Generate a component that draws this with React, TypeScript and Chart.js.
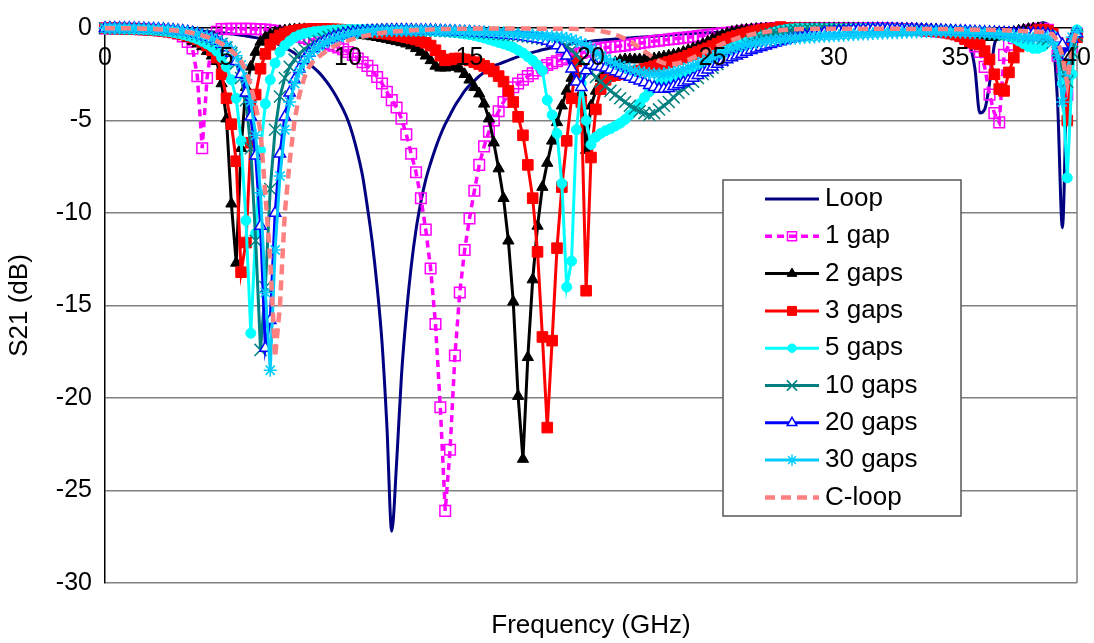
import React, { useEffect, useRef } from "react";
import { Chart, registerables } from "chart.js";
import { drawPoint } from "chart.js/helpers";

Chart.register(...registerables);
Chart.defaults.font.family = "'Liberation Sans', Arial, sans-serif";

const FREQ = [
  0, 0.2, 0.4, 0.6, 0.8, 1, 1.2, 1.4, 1.6, 1.8,
  2, 2.2, 2.4, 2.6, 2.8, 3, 3.2, 3.4, 3.6, 3.8,
  4, 4.2, 4.4, 4.6, 4.8, 5, 5.2, 5.4, 5.6, 5.8,
  6, 6.2, 6.4, 6.6, 6.8, 7, 7.2, 7.4, 7.6, 7.8,
  8, 8.2, 8.4, 8.6, 8.8, 9, 9.2, 9.4, 9.6, 9.8,
  10, 10.2, 10.4, 10.6, 10.8, 11, 11.2, 11.4, 11.6, 11.8,
  12, 12.2, 12.4, 12.6, 12.8, 13, 13.2, 13.4, 13.6, 13.8,
  14, 14.2, 14.4, 14.6, 14.8, 15, 15.2, 15.4, 15.6, 15.8,
  16, 16.2, 16.4, 16.6, 16.8, 17, 17.2, 17.4, 17.6, 17.8,
  18, 18.2, 18.4, 18.6, 18.8, 19, 19.2, 19.4, 19.6, 19.8,
  20, 20.2, 20.4, 20.6, 20.8, 21, 21.2, 21.4, 21.6, 21.8,
  22, 22.2, 22.4, 22.6, 22.8, 23, 23.2, 23.4, 23.6, 23.8,
  24, 24.2, 24.4, 24.6, 24.8, 25, 25.2, 25.4, 25.6, 25.8,
  26, 26.2, 26.4, 26.6, 26.8, 27, 27.2, 27.4, 27.6, 27.8,
  28, 28.2, 28.4, 28.6, 28.8, 29, 29.2, 29.4, 29.6, 29.8,
  30, 30.2, 30.4, 30.6, 30.8, 31, 31.2, 31.4, 31.6, 31.8,
  32, 32.2, 32.4, 32.6, 32.8, 33, 33.2, 33.4, 33.6, 33.8,
  34, 34.2, 34.4, 34.6, 34.8, 35, 35.2, 35.4, 35.6, 35.8,
  36, 36.2, 36.4, 36.6, 36.8, 37, 37.2, 37.4, 37.6, 37.8,
  38, 38.2, 38.4, 38.6, 38.8, 39, 39.2, 39.4, 39.6, 39.8,
  40,
];

const LOOP = [
  -0.02, -0.02, -0.02, -0.03, -0.03, -0.03, -0.04, -0.04, -0.05, -0.05,
  -0.06, -0.06, -0.07, -0.08, -0.09, -0.1, -0.11, -0.12, -0.14, -0.15,
  -0.17, -0.19, -0.21, -0.23, -0.26, -0.29, -0.32, -0.35, -0.39, -0.43,
  -0.47, -0.52, -0.58, -0.65, -0.73, -0.82, -0.93, -1.05, -1.2, -1.36,
  -1.6, -1.75, -1.95, -2.15, -2.4, -2.7, -3.05, -3.45, -3.9, -4.4,
  -5, -5.8, -6.8, -8, -9.7, -11.6, -14, -17, -21.5, -27.2,
  -23.5, -18.8, -15.5, -12.9, -10.9, -9.4, -8.2, -7.3, -6.5, -5.8,
  -5.2, -4.7, -4.2, -3.8, -3.4, -3.1, -2.85, -2.6, -2.4, -2.2,
  -2.05, -1.95, -1.85, -1.75, -1.65, -1.55, -1.47, -1.39, -1.32, -1.25,
  -1.18, -1.12, -1.06, -1, -0.95, -0.9, -0.85, -0.81, -0.77, -0.74,
  -0.71, -0.68, -0.66, -0.64, -0.62, -0.6, -0.58, -0.56, -0.54, -0.52,
  -0.5, -0.48, -0.46, -0.44, -0.42, -0.4, -0.38, -0.36, -0.34, -0.32,
  -0.3, -0.29, -0.28, -0.27, -0.26, -0.25, -0.24, -0.23, -0.22, -0.21,
  -0.2, -0.2, -0.19, -0.19, -0.18, -0.18, -0.17, -0.17, -0.16, -0.16,
  -0.15, -0.15, -0.15, -0.14, -0.14, -0.14, -0.13, -0.13, -0.13, -0.13,
  -0.13, -0.13, -0.13, -0.13, -0.14, -0.14, -0.14, -0.15, -0.15, -0.16,
  -0.16, -0.17, -0.18, -0.19, -0.2, -0.21, -0.23, -0.25, -0.27, -0.3,
  -0.33, -0.36, -0.4, -0.45, -0.5, -0.56, -0.62, -0.75, -1, -2.2,
  -4.6, -4.4, -3, -0.9, -0.4, -0.25, -0.18, -0.12, -0.08, -0.04,
  0, 0.1, 0.2, 0.28, 0.15, -0.6, -4, -10.8, -2, -0.3,
  -0.2,
];

const GAP1 = [
  -0.02, -0.02, -0.03, -0.03, -0.04, -0.05, -0.05, -0.06, -0.07, -0.08,
  -0.1, -0.12, -0.14, -0.17, -0.21, -0.3, -0.45, -0.75, -1.1, -2.6,
  -6.5, -2.7, -0.8, -0.2, -0.06, -0.04, -0.04, -0.04, -0.04, -0.05,
  -0.05, -0.06, -0.07, -0.09, -0.12, -0.15, -0.2, -0.26, -0.33, -0.4,
  -0.47, -0.54, -0.61, -0.68, -0.75, -0.82, -0.88, -0.95, -1.05, -1.15,
  -1.3, -1.45, -1.65, -1.85, -2.05, -2.3, -2.65, -3, -3.45, -3.9,
  -4.3, -4.9, -5.75, -6.8, -7.8, -9.2, -10.9, -13, -16, -20.5,
  -26.1, -22.8, -17.7, -14.3, -12, -10.3, -8.8, -7.4, -6.4, -5.6,
  -5, -4.5, -4, -3.55, -3.2, -3, -2.8, -2.6, -2.45, -2.3,
  -2.15, -2, -1.9, -1.8, -1.7, -1.6, -1.5, -1.42, -1.35, -1.28,
  -1.22, -1.16, -1.1, -1.06, -1.03, -1, -0.97, -0.94, -0.9, -0.86,
  -0.82, -0.78, -0.74, -0.71, -0.68, -0.65, -0.62, -0.59, -0.56, -0.53,
  -0.5, -0.47, -0.44, -0.41, -0.38, -0.35, -0.32, -0.29, -0.26, -0.23,
  -0.2, -0.17, -0.14, -0.11, -0.08, -0.06, -0.04, -0.02, 0, 0,
  0, 0, 0, 0, 0, 0, 0, 0, 0, 0,
  0, 0, 0, 0, -0.01, -0.01, -0.01, -0.01, -0.02, -0.02,
  -0.02, -0.03, -0.04, -0.05, -0.06, -0.07, -0.08, -0.1, -0.12, -0.14,
  -0.16, -0.18, -0.2, -0.23, -0.26, -0.3, -0.4, -0.55, -0.8, -1,
  -1.3, -2.1, -3.6, -4.6, -5.1, -1.45, -0.9, -0.55, -0.35, -0.2,
  -0.12, -0.08, -0.05, -0.05, -0.1, -0.5, -1.5, -2.1, -3.6, -1,
  -0.3,
];

const GAP2 = [
  -0.02, -0.02, -0.03, -0.03, -0.04, -0.05, -0.06, -0.07, -0.08, -0.09,
  -0.11, -0.13, -0.16, -0.2, -0.25, -0.32, -0.42, -0.55, -0.7, -0.85,
  -1, -1.25, -1.5, -1.8, -3, -4.9, -9.5, -12.7, -6.5, -3.2,
  -2.1, -1.3, -0.75, -0.5, -0.35, -0.25, -0.18, -0.14, -0.1, -0.08,
  -0.07, -0.07, -0.08, -0.09, -0.1, -0.12, -0.14, -0.17, -0.2, -0.23,
  -0.27, -0.3, -0.34, -0.38, -0.42, -0.46, -0.5, -0.55, -0.6, -0.66,
  -0.72, -0.78, -0.85, -0.95, -1.1, -1.3, -1.5, -1.75, -2.05, -2.15,
  -2.15, -2.1, -2.1, -2.2, -2.5, -2.8, -3.2, -3.55, -4.1, -4.9,
  -6.2, -7.6, -9.2, -11.5, -14.8, -19.9, -23.3, -17.8, -13.6, -10.7,
  -8.6, -7.3, -6.1, -5.1, -4.2, -3.4, -2.7, -2.5, -3.5, -6.6,
  -4.2, -3.4, -2.7, -2.3, -2, -1.85, -1.75, -1.7, -1.7, -1.7,
  -1.7, -1.7, -1.68, -1.65, -1.6, -1.55, -1.5, -1.45, -1.38, -1.3,
  -1.2, -1.1, -1, -0.88, -0.75, -0.6, -0.48, -0.38, -0.3, -0.22,
  -0.16, -0.12, -0.09, -0.07, -0.05, -0.04, -0.03, -0.03, -0.02, -0.02,
  -0.02, -0.02, -0.02, -0.02, -0.02, -0.02, -0.02, -0.02, -0.02, -0.02,
  -0.02, -0.02, -0.02, -0.02, -0.02, -0.02, -0.02, -0.02, -0.02, -0.02,
  -0.03, -0.03, -0.03, -0.04, -0.04, -0.05, -0.05, -0.06, -0.07, -0.08,
  -0.09, -0.1, -0.12, -0.14, -0.16, -0.19, -0.22, -0.26, -0.3, -0.35,
  -0.4, -0.45, -0.5, -0.5, -0.45, -0.38, -0.3, -0.22, -0.15, -0.1,
  -0.06, -0.03, -0.02, -0.05, -0.15, -0.4, -0.9, -1.5, -1.2, -0.5,
  -0.3,
];

const GAP3 = [
  -0.02, -0.02, -0.03, -0.03, -0.04, -0.05, -0.06, -0.07, -0.08, -0.1,
  -0.12, -0.14, -0.17, -0.2, -0.24, -0.29, -0.35, -0.42, -0.5, -0.6,
  -0.75, -0.95, -1.2, -1.6, -2.5, -3.8, -5.2, -7.2, -13.2, -11.6,
  -6.2, -3.6, -2.2, -1.4, -0.9, -0.6, -0.4, -0.3, -0.2, -0.15,
  -0.1, -0.08, -0.06, -0.05, -0.05, -0.05, -0.06, -0.07, -0.08, -0.1,
  -0.12, -0.14, -0.16, -0.18, -0.2, -0.22, -0.25, -0.28, -0.31, -0.35,
  -0.4, -0.45, -0.5, -0.56, -0.62, -0.7, -0.8, -0.95, -1.2, -1.5,
  -1.75, -1.7, -1.65, -1.65, -1.7, -1.75, -1.85, -1.95, -2.05, -2.2,
  -2.35, -2.6, -2.9, -3.4, -4, -4.8, -5.8, -7.4, -9.2, -12.1,
  -16.7, -21.6, -16.9, -11.9, -8.6, -6.1, -3.8, -1.8, -4, -14.2,
  -7, -4.4, -3.3, -2.8, -2.6, -2.55, -2.5, -2.45, -2.4, -2.35,
  -2.3, -2.22, -2.15, -2.07, -2, -1.92, -1.84, -1.76, -1.68, -1.6,
  -1.5, -1.4, -1.3, -1.2, -1.1, -0.98, -0.85, -0.72, -0.6, -0.5,
  -0.42, -0.35, -0.28, -0.22, -0.16, -0.11, -0.07, -0.04, -0.02, 0.05,
  -0.01, -0.02, -0.02, -0.03, -0.03, -0.03, -0.04, -0.04, -0.04, -0.05,
  -0.05, -0.05, -0.05, -0.05, -0.05, -0.06, -0.06, -0.06, -0.06, -0.06,
  -0.06, -0.07, -0.07, -0.08, -0.08, -0.09, -0.1, -0.11, -0.12, -0.14,
  -0.16, -0.18, -0.21, -0.25, -0.3, -0.36, -0.45, -0.6, -0.75, -0.85,
  -0.9, -1.25, -1.7, -2.5, -3.3, -3.4, -2.4, -1.6, -1, -0.6,
  -0.35, -0.2, -0.12, -0.1, -0.15, -0.3, -0.8, -2, -5, -0.8,
  -0.5,
];

const GAP5 = [
  -0.02, -0.02, -0.03, -0.03, -0.04, -0.05, -0.06, -0.07, -0.08, -0.1,
  -0.12, -0.14, -0.17, -0.2, -0.24, -0.29, -0.35, -0.42, -0.5, -0.6,
  -0.72, -0.86, -1.02, -1.25, -1.6, -2.1, -2.8, -3.8, -6.1, -10.4,
  -16.5, -11.1, -6.6, -4.1, -2.8, -1.9, -1.3, -0.95, -0.7, -0.5,
  -0.38, -0.3, -0.25, -0.2, -0.17, -0.15, -0.13, -0.11, -0.1, -0.09,
  -0.08, -0.08, -0.08, -0.08, -0.08, -0.09, -0.09, -0.1, -0.1, -0.11,
  -0.11, -0.12, -0.12, -0.13, -0.14, -0.14, -0.15, -0.16, -0.17, -0.18,
  -0.2, -0.22, -0.25, -0.28, -0.32, -0.36, -0.41, -0.47, -0.54, -0.62,
  -0.7, -0.78, -0.86, -0.95, -1.05, -1.2, -1.35, -1.55, -1.75, -2,
  -2.3, -3.9, -4.7, -5.7, -8.4, -14, -12.6, -5.5, -3, -5,
  -6.3, -5.9, -5.7, -5.55, -5.45, -5.3, -5.15, -4.95, -4.7, -4.4,
  -4.1, -3.75, -3.45, -3.2, -3, -2.85, -2.72, -2.6, -2.5, -2.4,
  -2.3, -2.2, -2.1, -1.98, -1.85, -1.7, -1.55, -1.38, -1.22, -1.08,
  -0.97, -0.87, -0.77, -0.68, -0.58, -0.48, -0.38, -0.28, -0.2, -0.13,
  -0.08, -0.05, -0.03, -0.02, -0.02, -0.02, -0.02, -0.02, -0.02, -0.02,
  -0.03, -0.03, -0.03, -0.03, -0.03, -0.03, -0.03, -0.03, -0.03, -0.03,
  -0.03, -0.04, -0.04, -0.05, -0.05, -0.06, -0.07, -0.08, -0.09, -0.1,
  -0.11, -0.12, -0.13, -0.14, -0.15, -0.16, -0.17, -0.18, -0.19, -0.2,
  -0.21, -0.23, -0.25, -0.28, -0.32, -0.38, -0.45, -0.55, -0.7, -0.85,
  -1, -1.1, -1.1, -1, -0.6, -0.4, -1, -3, -8.1, -2.5,
  -0.1,
];

const GAP10 = [
  -0.01, -0.01, -0.01, -0.02, -0.02, -0.02, -0.03, -0.03, -0.04, -0.05,
  -0.06, -0.07, -0.08, -0.1, -0.12, -0.15, -0.18, -0.22, -0.27, -0.33,
  -0.4, -0.48, -0.58, -0.7, -0.85, -1.05, -1.35, -1.9, -2.7, -3.9,
  -6.5, -11.5, -17.4, -14, -8.7, -5.5, -3.7, -2.7, -2.1, -1.7,
  -1.4, -1.15, -0.97, -0.82, -0.7, -0.58, -0.48, -0.39, -0.32, -0.27,
  -0.23, -0.2, -0.17, -0.15, -0.13, -0.12, -0.11, -0.1, -0.1, -0.1,
  -0.1, -0.1, -0.1, -0.11, -0.11, -0.12, -0.12, -0.13, -0.14, -0.15,
  -0.16, -0.17, -0.18, -0.19, -0.2, -0.21, -0.22, -0.24, -0.26, -0.28,
  -0.3, -0.32, -0.34, -0.36, -0.38, -0.4, -0.43, -0.46, -0.5, -0.54,
  -0.58, -0.63, -0.69, -0.76, -0.85, -1, -1.2, -1.45, -1.75, -2.1,
  -2.4, -2.65, -2.9, -3.15, -3.4, -3.6, -3.8, -4, -4.2, -4.35,
  -4.5, -4.6, -4.7, -4.6, -4.4, -4.2, -4, -3.75, -3.5, -3.3,
  -3.1, -2.9, -2.7, -2.5, -2.35, -2.15, -1.95, -1.75, -1.55, -1.35,
  -1.15, -1, -0.85, -0.72, -0.6, -0.5, -0.4, -0.32, -0.25, -0.2,
  -0.15, -0.12, -0.1, -0.08, -0.07, -0.06, -0.05, -0.05, -0.05, -0.05,
  -0.05, -0.05, -0.05, -0.05, -0.05, -0.05, -0.05, -0.05, -0.05, -0.05,
  -0.05, -0.06, -0.06, -0.07, -0.07, -0.08, -0.08, -0.09, -0.1, -0.11,
  -0.12, -0.13, -0.14, -0.15, -0.16, -0.17, -0.18, -0.2, -0.22, -0.24,
  -0.26, -0.28, -0.3, -0.32, -0.34, -0.36, -0.38, -0.4, -0.42, -0.45,
  -0.48, -0.5, -0.52, -0.55, -0.6, -0.8, -1.2, -2.2, -2.9, -1.3,
  -0.4,
];

const GAP20 = [
  -0.01, -0.01, -0.01, -0.02, -0.02, -0.02, -0.03, -0.03, -0.04, -0.05,
  -0.06, -0.07, -0.08, -0.1, -0.12, -0.15, -0.18, -0.22, -0.27, -0.33,
  -0.4, -0.48, -0.58, -0.7, -0.86, -1.05, -1.35, -1.8, -2.5, -3.5,
  -4.8, -6.9, -10.7, -17.3, -15.8, -10, -6.8, -4.8, -3.5, -2.8,
  -2.2, -1.7, -1.35, -1.1, -0.9, -0.75, -0.62, -0.5, -0.42, -0.35,
  -0.3, -0.26, -0.23, -0.2, -0.18, -0.16, -0.15, -0.14, -0.13, -0.12,
  -0.12, -0.12, -0.12, -0.12, -0.13, -0.13, -0.14, -0.14, -0.15, -0.16,
  -0.17, -0.18, -0.19, -0.2, -0.21, -0.22, -0.24, -0.26, -0.28, -0.3,
  -0.32, -0.34, -0.36, -0.38, -0.4, -0.43, -0.46, -0.5, -0.54, -0.58,
  -0.62, -0.7, -0.8, -0.95, -1.15, -1.5, -2.2, -2.9, -3.2, -2.3,
  -2, -2.05, -2.1, -2.15, -2.25, -2.35, -2.45, -2.55, -2.65, -2.75,
  -2.85, -2.95, -3.1, -3.2, -3.3, -3.3, -3.25, -3.15, -3.05, -2.95,
  -2.85, -2.7, -2.55, -2.4, -2.25, -2.1, -1.95, -1.82, -1.7, -1.6,
  -1.5, -1.4, -1.3, -1.2, -1.12, -1.04, -0.96, -0.88, -0.8, -0.73,
  -0.66, -0.6, -0.54, -0.48, -0.43, -0.38, -0.34, -0.3, -0.26, -0.23,
  -0.2, -0.17, -0.15, -0.13, -0.11, -0.1, -0.09, -0.08, -0.07, -0.06,
  -0.06, -0.06, -0.06, -0.07, -0.07, -0.08, -0.08, -0.09, -0.1, -0.11,
  -0.12, -0.13, -0.14, -0.15, -0.16, -0.17, -0.18, -0.19, -0.2, -0.21,
  -0.22, -0.23, -0.24, -0.25, -0.26, -0.27, -0.28, -0.28, -0.29, -0.3,
  -0.3, -0.3, -0.3, -0.3, -0.35, -0.45, -0.6, -0.9, -1.5, -0.6,
  -0.3,
];

const GAP30 = [
  -0.01, -0.01, -0.01, -0.02, -0.02, -0.02, -0.03, -0.03, -0.04, -0.05,
  -0.06, -0.07, -0.08, -0.1, -0.12, -0.15, -0.18, -0.22, -0.27, -0.33,
  -0.4, -0.47, -0.56, -0.67, -0.8, -0.97, -1.2, -1.5, -2, -2.8,
  -4, -5.8, -8.9, -14.3, -18.5, -12, -8, -5.5, -4, -3,
  -2.35, -1.85, -1.5, -1.2, -1, -0.85, -0.7, -0.6, -0.5, -0.42,
  -0.36, -0.31, -0.27, -0.24, -0.21, -0.19, -0.17, -0.16, -0.15, -0.14,
  -0.13, -0.13, -0.13, -0.13, -0.13, -0.13, -0.13, -0.14, -0.14, -0.15,
  -0.15, -0.16, -0.16, -0.17, -0.18, -0.19, -0.2, -0.21, -0.22, -0.23,
  -0.24, -0.25, -0.26, -0.28, -0.3, -0.32, -0.34, -0.36, -0.38, -0.4,
  -0.42, -0.44, -0.46, -0.48, -0.5, -0.55, -0.62, -0.7, -0.8, -0.95,
  -1.1, -1.3, -1.5, -1.65, -1.8, -1.92, -2.03, -2.13, -2.22, -2.3,
  -2.37, -2.42, -2.46, -2.48, -2.48, -2.46, -2.42, -2.37, -2.3, -2.22,
  -2.13, -2.03, -1.92, -1.8, -1.68, -1.56, -1.44, -1.33, -1.22, -1.12,
  -1.03, -0.96, -0.9, -0.84, -0.79, -0.74, -0.7, -0.67, -0.64, -0.62,
  -0.6, -0.58, -0.56, -0.54, -0.52, -0.5, -0.48, -0.46, -0.44, -0.43,
  -0.42, -0.4, -0.39, -0.37, -0.36, -0.34, -0.33, -0.32, -0.3, -0.29,
  -0.28, -0.27, -0.26, -0.25, -0.24, -0.23, -0.22, -0.21, -0.2, -0.2,
  -0.2, -0.2, -0.2, -0.2, -0.21, -0.22, -0.23, -0.24, -0.25, -0.26,
  -0.26, -0.27, -0.28, -0.3, -0.32, -0.34, -0.36, -0.4, -0.45, -0.5,
  -0.55, -0.55, -0.5, -0.45, -0.5, -0.8, -1.5, -4, -2.5, -0.5,
  -0.2,
];

const CLOOP = [
  -0.01, -0.01, -0.01, -0.02, -0.02, -0.02, -0.03, -0.03, -0.04, -0.05,
  -0.06, -0.07, -0.08, -0.1, -0.12, -0.15, -0.18, -0.22, -0.27, -0.33,
  -0.4, -0.48, -0.58, -0.7, -0.85, -1.02, -1.22, -1.48, -1.8, -2.3,
  -3.1, -4.2, -5.6, -9, -12.5, -17.8, -15, -10, -7.2, -5,
  -3.6, -2.7, -2.1, -1.75, -1.55, -1.35, -1.15, -1, -0.88, -0.78,
  -0.68, -0.6, -0.52, -0.46, -0.4, -0.35, -0.3, -0.26, -0.23, -0.2,
  -0.18, -0.16, -0.14, -0.12, -0.11, -0.1, -0.09, -0.08, -0.07, -0.06,
  -0.05, -0.05, -0.04, -0.04, -0.04, -0.03, -0.03, -0.03, -0.03, -0.03,
  -0.03, -0.03, -0.03, -0.03, -0.03, -0.03, -0.03, -0.03, -0.04, -0.04,
  -0.04, -0.04, -0.04, -0.04, -0.04, -0.04, -0.04, -0.05, -0.06, -0.08,
  -0.1, -0.13, -0.17, -0.22, -0.28, -0.36, -0.46, -0.58, -0.72, -0.88,
  -1.05, -1.25, -1.45, -1.65, -1.8, -1.9, -1.95, -1.95, -1.9, -1.82,
  -1.72, -1.6, -1.48, -1.35, -1.22, -1.1, -0.98, -0.86, -0.75, -0.65,
  -0.56, -0.48, -0.41, -0.35, -0.3, -0.25, -0.21, -0.17, -0.14, -0.12,
  -0.1, -0.08, -0.07, -0.06, -0.05, -0.05, -0.04, -0.04, -0.04, -0.04,
  -0.04, -0.04, -0.04, -0.04, -0.04, -0.04, -0.04, -0.04, -0.04, -0.04,
  -0.04, -0.04, -0.04, -0.04, -0.04, -0.05, -0.05, -0.05, -0.05, -0.05,
  -0.05, -0.05, -0.06, -0.06, -0.06, -0.07, -0.07, -0.08, -0.08, -0.09,
  -0.09, -0.1, -0.1, -0.11, -0.12, -0.12, -0.13, -0.14, -0.15, -0.16,
  -0.17, -0.18, -0.2, -0.22, -0.25, -0.35, -0.7, -1.5, -3, -1,
  -0.1,
];

const SERIES_NAMES = ["Loop", "1 gap", "2 gaps", "3 gaps", "5 gaps", "10 gaps", "20 gaps", "30 gaps", "C-loop"];
const SERIES_VALUES = [LOOP, GAP1, GAP2, GAP3, GAP5, GAP10, GAP20, GAP30, CLOOP];

type Style = {
  color: string;
  width: number;
  dash: number[];
  pointStyle?: string;
  radius?: number;
  fill?: string;
  pbw?: number;
  smooth?: boolean;
};

const STYLES: Style[] = [
  { color: "#000080", width: 3, dash: [], smooth: true },
  { color: "#FF00FF", width: 3.5, dash: [7, 5], pointStyle: "rect", radius: 7.5, fill: "rgba(0,0,0,0)", pbw: 1.5 },
  { color: "#000000", width: 3, dash: [], pointStyle: "triangle", radius: 6.5, fill: "#000000", pbw: 1 },
  { color: "#FF0000", width: 3, dash: [], pointStyle: "rect", radius: 7.5, fill: "#FF0000", pbw: 1 },
  { color: "#00FFFF", width: 3, dash: [], pointStyle: "circle", radius: 5, fill: "#00FFFF", pbw: 1 },
  { color: "#008080", width: 3, dash: [], pointStyle: "crossRot", radius: 8.5, fill: "#008080", pbw: 1.5 },
  { color: "#0000FF", width: 3, dash: [], pointStyle: "triangle", radius: 6.5, fill: "#FFFFFF", pbw: 1.5 },
  { color: "#00CCFF", width: 3, dash: [], pointStyle: "star", radius: 6.5, fill: "#00CCFF", pbw: 1.5 },
  { color: "#FF8080", width: 4.5, dash: [10, 6], smooth: false },
];

const FONT = "'Liberation Sans', Arial, sans-serif";

const framePlugin = {
  id: "frameRight",
  beforeDatasetsDraw(chart: any) {
    const { ctx, chartArea: a } = chart;
    ctx.save();
    ctx.strokeStyle = "#808080";
    ctx.lineWidth = 1.5;
    ctx.beginPath();
    ctx.moveTo(a.right, a.top);
    ctx.lineTo(a.right, a.bottom);
    ctx.stroke();
    ctx.restore();
  },
};

const legendPlugin = {
  id: "boxLegend",
  afterDraw(chart: any) {
    const { ctx } = chart;
    const bx = 723, by = 180, bw = 238, bh = 336;
    ctx.save();
    ctx.fillStyle = "#ffffff";
    ctx.fillRect(bx, by, bw, bh);
    ctx.strokeStyle = "#555555";
    ctx.lineWidth = 1.5;
    ctx.strokeRect(bx, by, bw, bh);
    SERIES_NAMES.forEach((name, i) => {
      const st = STYLES[i];
      const cy = 199 + i * 37.3;
      ctx.setLineDash(st.dash);
      ctx.strokeStyle = st.color;
      ctx.lineWidth = st.width;
      ctx.beginPath();
      ctx.moveTo(765, cy);
      ctx.lineTo(819, cy);
      ctx.stroke();
      ctx.setLineDash([]);
      if (st.pointStyle) {
        ctx.fillStyle = st.fill;
        ctx.strokeStyle = st.color;
        ctx.lineWidth = st.pbw;
        drawPoint(ctx, { pointStyle: st.pointStyle as any, radius: (st.radius as number) * 0.85, borderWidth: st.pbw as number, rotation: 0 }, 792, cy);
      }
      ctx.fillStyle = "#000000";
      ctx.font = "26px " + FONT;
      ctx.textBaseline = "middle";
      ctx.textAlign = "left";
      ctx.fillText(name, 825, cy);
    });
    ctx.restore();
  },
};

export default function App() {
  const ref = useRef<HTMLCanvasElement>(null);

  useEffect(() => {
    const datasets = SERIES_NAMES.map((name, i) => {
      const st = STYLES[i];
      const vals = SERIES_VALUES[i];
      return {
        label: name,
        data: FREQ.map((f, k) => ({ x: f, y: vals[k] })),
        borderColor: st.color,
        backgroundColor: st.color,
        borderWidth: st.width,
        borderDash: st.dash,
        pointStyle: st.pointStyle || "circle",
        pointRadius: st.pointStyle ? st.radius : 0,
        pointBackgroundColor: st.fill || st.color,
        pointBorderColor: st.color,
        pointBorderWidth: st.pbw || 1,
        cubicInterpolationMode: st.smooth ? "monotone" : "default",
        tension: 0,
        fill: false,
        clip: false,
        order: SERIES_NAMES.length - 1 - i,
      };
    });

    const chart = new Chart(ref.current as HTMLCanvasElement, {
      type: "line",
      data: { datasets } as any,
      options: {
        animation: false,
        responsive: false,
        devicePixelRatio: 1,
        events: [],
        layout: { padding: { top: 18, right: 17, left: 0, bottom: 0 } },
        plugins: {
          legend: { display: false },
          tooltip: { enabled: false },
        },
        scales: {
          x: {
            type: "linear",
            position: "bottom",
            min: 0,
            max: 40,
            ticks: { display: false },
            grid: { display: false },
            border: { display: false },
            title: {
              display: true,
              text: "Frequency (GHz)",
              color: "#000",
              font: { size: 26, family: FONT },
              padding: { top: 0, bottom: 2 },
            },
            afterFit: (s: any) => {
              s.height = 60;
              s.paddingLeft = 0;
              s.paddingRight = 0;
            },
          },
          x2: {
            type: "linear",
            position: "top",
            min: 0,
            max: 40,
            ticks: {
              stepSize: 5,
              mirror: true,
              padding: 15,
              z: 1,
              color: "#000",
              font: { size: 25, family: FONT },
              maxRotation: 0,
              autoSkip: false,
            },
            grid: { display: false },
            border: { display: false },
            afterFit: (s: any) => {
              s.height = 0;
              s.paddingLeft = 0;
              s.paddingRight = 0;
            },
          },
          y: {
            type: "linear",
            min: -30,
            max: 0,
            ticks: {
              stepSize: 5,
              padding: 13,
              color: "#000",
              font: { size: 25, family: FONT },
            },
            grid: {
              color: (c: any) => (c.tick && c.tick.value === 0 ? "#000000" : "#808080"),
              lineWidth: 1.5,
              drawTicks: false,
            },
            border: { color: "#000000", width: 1.5 },
            title: {
              display: true,
              text: "S21 (dB)",
              color: "#000",
              font: { size: 26, family: FONT },
              padding: { top: 4, bottom: 0 },
            },
            afterFit: (s: any) => {
              s.width = 105;
            },
          },
        },
      } as any,
      plugins: [framePlugin, legendPlugin],
    });

    return () => chart.destroy();
  }, []);

  return (
    <div style={{ position: "fixed", left: 0, top: 0, width: 1094, height: 643, background: "#ffffff" }}>
      <canvas ref={ref} width={1094} height={643} style={{ display: "block", width: 1094, height: 643 }} />
    </div>
  );
}
